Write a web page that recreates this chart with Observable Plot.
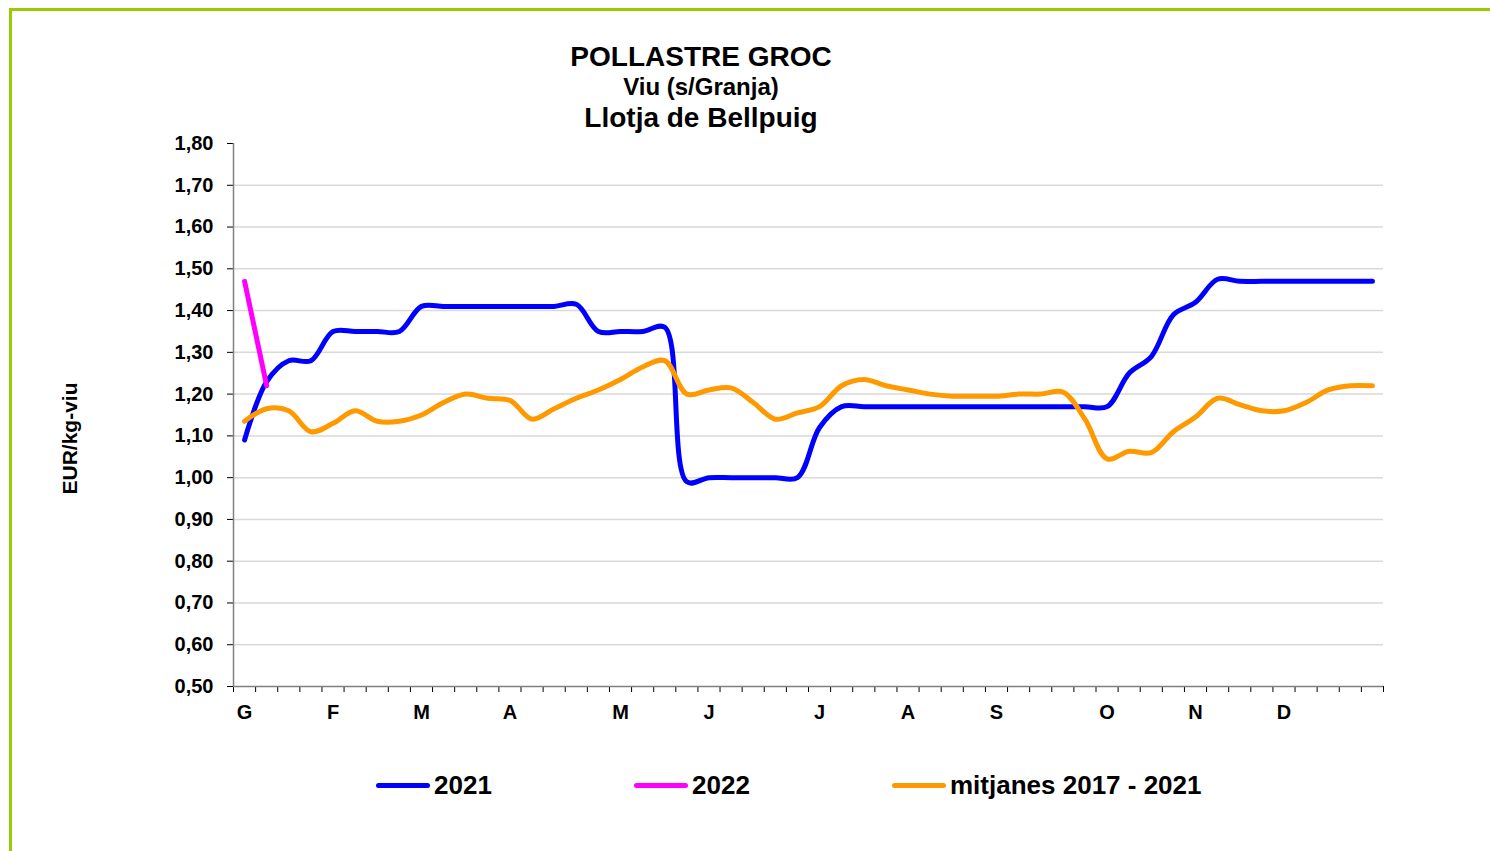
<!DOCTYPE html>
<html>
<head>
<meta charset="utf-8">
<script src="https://cdn.jsdelivr.net/npm/d3@7"></script>
<script src="https://cdn.jsdelivr.net/npm/@observablehq/plot@0.6"></script>
<style>
  html, body { margin: 0; padding: 0; background: #fff; overflow: hidden; }
  #page { position: relative; width: 1490px; height: 851px; overflow: hidden; font-family: "Liberation Sans", Arial, sans-serif; font-weight: bold; color: #000; }
  #frame { position: absolute; left: 9px; top: 8px; width: 1500px; height: 900px; border: 3px solid #99cc00; box-sizing: border-box; }
  .t { position: absolute; left: 0; width: 1402px; text-align: center; white-space: nowrap; }
  #chart { position: absolute; left: 0; top: 130px; }
  .leg { position: absolute; top: 772px; display: flex; align-items: center; font-size: 26px; line-height: 26px; white-space: nowrap; }
  .sw { width: 54px; height: 5px; border-radius: 3px; margin-right: 4px; }
</style>
</head>
<body>
<div id="page">
  <div id="frame"></div>
  <div class="t" style="top:43px;font-size:28px;line-height:28px;">POLLASTRE GROC</div>
  <div class="t" style="top:75px;font-size:24px;line-height:24px;">Viu (s/Granja)</div>
  <div class="t" style="top:104px;font-size:28px;line-height:28px;">Llotja de Bellpuig</div>
  <div id="chart"></div>
  <div id="legend"></div>
</div>
<script>
// Weeks of the year (categories)
const weeks = d3.range(1, 53);

// Series values (EUR/kg-viu)
const serie2021 = [1.09,1.23,1.28,1.28,1.35,1.35,1.35,1.35,1.41,1.41,
                   1.41,1.41,1.41,1.41,1.41,1.415,1.35,1.35,1.35,1.36,
                   0.99,1.00,1.00,1.00,1.00,1.00,1.12,1.17,1.17,1.17,
                   1.17,1.17,1.17,1.17,1.17,1.17,1.17,1.17,1.17,1.17,
                   1.25,1.29,1.39,1.42,1.475,1.47,1.47,1.47,1.47,1.47,1.47,1.47];
const serie2022 = [1.47, 1.22];
const mitjanes = [1.135,1.165,1.16,1.11,1.13,1.16,1.135,1.135,1.15,1.18,
                  1.20,1.19,1.185,1.14,1.165,1.19,1.21,1.235,1.265,1.28,
                  1.20,1.21,1.215,1.18,1.14,1.155,1.17,1.22,1.235,1.22,
                  1.21,1.20,1.195,1.195,1.195,1.20,1.20,1.205,1.14,1.045,
                  1.063,1.06,1.11,1.145,1.19,1.175,1.16,1.16,1.18,1.21,1.22,1.22];

// Axis tick labels
const monthLabels = ["G","F","M","A","M","J","J","A","S","O","N","D"];
const monthWeeks  = [1,5,9,13,18,22,27,31,35,40,44,48];
const yTicks = [0.5,0.6,0.7,0.8,0.9,1.0,1.1,1.2,1.3,1.4,1.5,1.6,1.7,1.8];
const gridTicks = yTicks.slice(1, -1);

const seriesNames = ["2021", "2022", "mitjanes 2017 - 2021"];
const seriesColors = ["#0000ff", "#ff00ff", "#ff9900"];

const toRows = (vals) => vals.map((v, i) => ({week: weeks[i], value: v}));
const boundaries = d3.range(0, 53).map(d => d + 0.5);
const labelOf = new Map(monthWeeks.map((w, i) => [w, monthLabels[i]]));

const chart = Plot.plot({
  width: 1490,
  height: 600,
  marginLeft: 233,
  marginRight: 107,
  marginTop: 13,
  marginBottom: 44,
  style: {fontFamily: "'Liberation Sans', Arial, sans-serif", fontSize: "20px", fontWeight: "bold", color: "#000", background: "transparent", overflow: "visible"},
  x: {type: "linear", domain: [0.5, 52.5], label: null},
  y: {domain: [0.5, 1.8], label: null},
  marks: [
    Plot.gridY(gridTicks, {stroke: "#d9d9d9", strokeOpacity: 1, strokeWidth: 1.5}),
    Plot.axisY(yTicks, {tickSize: 6, tickPadding: 14, tickFormat: d => d.toFixed(2).replace(".", ","), stroke: "#000", label: null}),
    Plot.axisX(boundaries, {tickSize: 6, tickFormat: () => "", stroke: "#000", label: null}),
    Plot.axisX(monthWeeks, {tickSize: 0, tickPadding: 18, tickFormat: d => labelOf.get(d), label: null}),
    Plot.ruleX([0.5], {stroke: "#808080", strokeWidth: 1.5}),
    Plot.ruleY([0.5], {stroke: "#808080", strokeWidth: 1.5}),
    Plot.text(["EUR/kg-viu"], {frameAnchor: "left", textAnchor: "middle", dx: -163, dy: 23.5, rotate: -90, fontSize: 21, fontWeight: "bold", fill: "#000"}),
    Plot.line(toRows(serie2021), {x: "week", y: "value", stroke: seriesColors[0], strokeWidth: 5, curve: "catmull-rom", strokeLinecap: "round", strokeLinejoin: "round"}),
    Plot.line(toRows(serie2022), {x: "week", y: "value", stroke: seriesColors[1], strokeWidth: 5, strokeLinecap: "round"}),
    Plot.line(toRows(mitjanes), {x: "week", y: "value", stroke: seriesColors[2], strokeWidth: 5, curve: "catmull-rom", strokeLinecap: "round", strokeLinejoin: "round"})
  ]
});
document.getElementById("chart").appendChild(chart);

// Legend below the chart
const legendLefts = [376, 634, 892];
const legend = document.getElementById("legend");
seriesNames.forEach((name, i) => {
  const item = document.createElement("div");
  item.className = "leg";
  item.style.left = legendLefts[i] + "px";
  const sw = document.createElement("div");
  sw.className = "sw";
  sw.style.background = seriesColors[i];
  const tx = document.createElement("span");
  tx.textContent = name;
  item.appendChild(sw);
  item.appendChild(tx);
  legend.appendChild(item);
});
</script>
</body>
</html>
